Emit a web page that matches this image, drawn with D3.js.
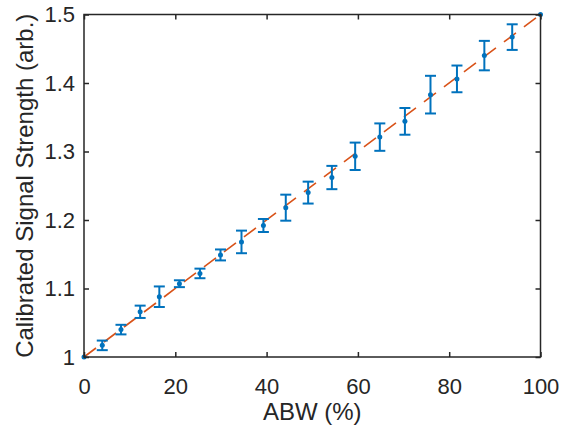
<!DOCTYPE html>
<html>
<head>
<meta charset="utf-8">
<script src="https://cdn.jsdelivr.net/npm/d3@7"></script>
<style>
  body { margin: 0; background: #fff; }
  text { font-family: "Liberation Sans", Arial, sans-serif; fill: #262626; }
</style>
</head>
<body>
<script>
// measured points (ABW %, signal, error half-width)
var abw = [0, 4.0, 8.1, 12.3, 16.5, 20.9, 25.4, 29.9, 34.5, 39.3, 44.2, 49.1, 54.3, 59.4, 64.8, 70.3, 75.9, 81.7, 87.7, 93.8, 100];
var signal = [1.0, 1.017, 1.040, 1.066, 1.088, 1.107, 1.122, 1.149, 1.168, 1.192, 1.218, 1.240, 1.262, 1.293, 1.321, 1.344, 1.383, 1.406, 1.440, 1.467, 1.5];
var err = [0, 0.007, 0.007, 0.009, 0.015, 0.005, 0.007, 0.008, 0.0165, 0.0095, 0.019, 0.016, 0.017, 0.020, 0.020, 0.0195, 0.0275, 0.0195, 0.0215, 0.0187, 0];

// reference line end points
var fitX = [0, 100];
var fitY = [1.0, 1.5];

var xTicks = [0, 20, 40, 60, 80, 100];
var yTicks = [1, 1.1, 1.2, 1.3, 1.4, 1.5];

var width = 562,
    height = 428;

var margin = {left: 84, top: 14.5, right: 21.5, bottom: 71};
var w = width - margin.left - margin.right,
    h = height - margin.top - margin.bottom;

var svg = d3.select('body')
  .append('svg')
  .attr('width', width)
  .attr('height', height);

var g = svg.append('g')
  .attr('transform', 'translate(' + margin.left + ',' + margin.top + ')');

var x = d3.scaleLinear().domain([0, 100]).range([0, w]);
var y = d3.scaleLinear().domain([1, 1.5]).range([h, 0]);

var points = abw.map(function(d, i) {
  return {x: d, y: signal[i], e: err[i]};
});

// dashed reference line
var line = d3.line()
  .x(function(d) { return x(d[0]); })
  .y(function(d) { return y(d[1]); });

g.append('path')
  .datum(fitX.map(function(d, i) { return [d, fitY[i]]; }))
  .attr('d', line)
  .attr('fill', 'none')
  .attr('stroke', '#D95319')
  .attr('stroke-width', 1.6)
  .attr('stroke-dasharray', '15,10');

// error bars
var blue = '#0072BD';
var bars = g.append('g').selectAll('g')
  .data(points)
  .enter()
  .append('g');

bars.filter(function(d) { return d.e > 0; })
  .each(function(d) {
    var s = d3.select(this);
    var cx = x(d.x);
    s.append('line')
      .attr('x1', cx).attr('x2', cx)
      .attr('y1', y(d.y - d.e)).attr('y2', y(d.y + d.e));
    s.append('line')
      .attr('x1', cx - 5.5).attr('x2', cx + 5.5)
      .attr('y1', y(d.y - d.e)).attr('y2', y(d.y - d.e));
    s.append('line')
      .attr('x1', cx - 5.5).attr('x2', cx + 5.5)
      .attr('y1', y(d.y + d.e)).attr('y2', y(d.y + d.e));
  })
  .selectAll('line')
  .attr('stroke', blue)
  .attr('stroke-width', 2);

bars.append('circle')
  .attr('cx', function(d) { return x(d.x); })
  .attr('cy', function(d) { return y(d.y); })
  .attr('r', 2.5)
  .attr('fill', blue);

// axes with inward ticks
var fmtY = function(d) { return d3.format('.1f')(d).replace(/\.0$/, ''); };

g.append('g')
  .attr('transform', 'translate(0,' + h + ')')
  .call(d3.axisBottom(x).tickValues(xTicks).tickSizeInner(-5).tickSizeOuter(0).tickPadding(21))
  .call(styleAxis);

g.append('g')
  .call(d3.axisLeft(y).tickValues(yTicks).tickFormat(fmtY).tickSizeInner(-5).tickSizeOuter(0).tickPadding(9))
  .call(styleAxis);

g.append('g')
  .call(d3.axisTop(x).tickValues(xTicks).tickSizeInner(-5).tickSizeOuter(0).tickFormat(''))
  .call(styleAxis);

g.append('g')
  .attr('transform', 'translate(' + w + ',0)')
  .call(d3.axisRight(y).tickValues(yTicks).tickSizeInner(-5).tickSizeOuter(0).tickFormat(''))
  .call(styleAxis);

function styleAxis(sel) {
  sel.select('.domain').remove();
  sel.selectAll('.tick line').attr('stroke', '#262626').attr('stroke-width', 1.5);
  sel.selectAll('.tick text')
    .style('font-family', '"Liberation Sans", Arial, sans-serif')
    .style('font-size', '22px')
    .attr('fill', '#262626');
}

// box
g.append('rect')
  .attr('width', w)
  .attr('height', h)
  .attr('fill', 'none')
  .attr('stroke', '#262626')
  .attr('stroke-width', 1.5);

// axis labels
svg.append('text')
  .attr('x', margin.left + w / 2)
  .attr('y', 420)
  .attr('text-anchor', 'middle')
  .style('font-size', '24px')
  .text('ABW (%)');

svg.append('text')
  .attr('transform', 'translate(33,' + (margin.top + h / 2) + ') rotate(-90)')
  .attr('text-anchor', 'middle')
  .style('font-size', '24px')
  .text('Calibrated Signal Strength (arb.)');
</script>
</body>
</html>
